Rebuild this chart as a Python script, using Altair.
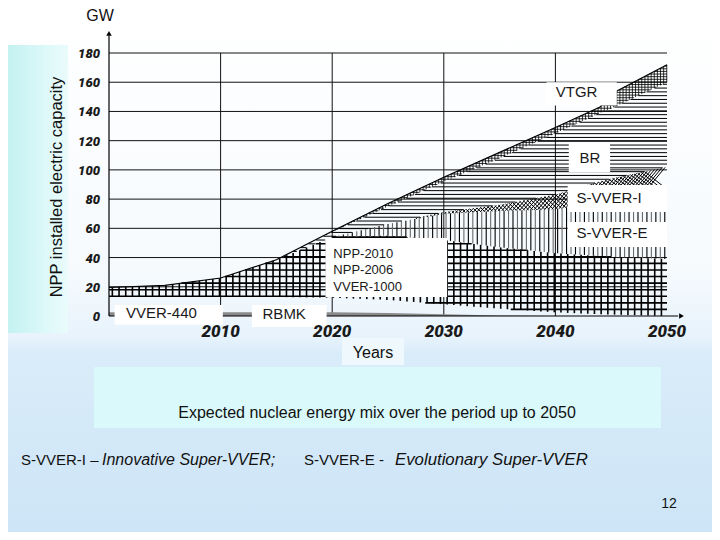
import altair as alt
import numpy as np
import pandas as pd

# ---------------- data (GW per reactor type) ----------------
years    = [2000, 2005, 2010, 2015, 2020, 2025, 2030, 2035, 2040, 2044, 2045, 2050]
vver440  = [2.5, 2.5, 2.5, 2.5, 2.5, 2.0, 1.2, 0.4, 0.0, 0.0, 0.0, 0.0]
rbmk     = [10.5, 10.5, 10.5, 10.5, 10.0, 9.0, 6.8, 4.6, 2.5, 1.2, 1.0, 0.0]
vver1000 = [6.5, 8.0, 13.0, 25.5, 41.5, 44.0, 44.0, 42.0, 40.5, 39.8, 39.5, 39.0]
svver_e  = [0, 0, 0, 0, 0, 8, 18, 25, 30, 37, 39.5, 49]
svver_i  = [0, 0, 0, 0, 0, 0, 1, 4, 10, 14, 14, 14]
br       = [0, 0, 0, 0, 3.5, 12, 21, 32, 42, 47, 48, 58]
vtgr     = [0, 0, 0, 0, 0.5, 2, 3, 4, 4, 4, 10, 12]

y_ticks = [0, 20, 40, 60, 80, 100, 120, 140, 160, 180]
x_ticks = [2010, 2020, 2030, 2040, 2050]
x_grid = [2010, 2020, 2030, 2040]

box_x0 = [2039.2, 2041.2, 2041.1, 2041.1, 2019.4, 2000.5, 2012.8]
box_x1 = [2045.5, 2044.9, 2050.0, 2050.0, 2030.3, 2010.2, 2019.5]
box_y0 = [144, 98.6, 71.2, 47.2, 13, -6, -7.5]
box_y1 = [160, 118.4, 89.7, 64.3, 53.4, 7.5, 7.5]

label_text = ["VTGR", "BR", "S-VVER-I", "S-VVER-E", "NPP-2010", "NPP-2006", "VVER-1000", "VVER-440", "RBMK"]
label_x = [2041.9, 2043.1, 2041.9, 2041.9, 2020.1, 2020.1, 2020.1, 2004.7, 2015.7]
label_y = [153.3, 108, 80.8, 56.8, 42.4, 31.5, 19.8, 2.0, 1.4]
label_align = ["center", "center", "left", "left", "left", "left", "left", "center", "center"]
label_size = [15, 15, 15, 15, 13, 13, 13, 15, 15]

# ---------------- geometry ----------------
W, H = 558, 263
X0, Y0 = 109, 53          # page position of plot origin
def px(v): return v - X0
def py(v): return v - Y0

XD = [2000, 2050]
YD = [0, 180]
xs = alt.Scale(domain=XD, nice=False, zero=False)
ys = alt.Scale(domain=YD, nice=False, zero=False)

# ---------------- stacking ----------------
arr = np.array([vver440, rbmk, vver1000, svver_e, svver_i, br, vtgr], dtype=float)
tops = np.cumsum(arr, axis=0)
bots = tops - arr
yrs = np.array(years, dtype=float)

def lo_hi(k, x):
    return np.interp(x, yrs, bots[k]), np.interp(x, yrs, tops[k])

segs = []
def vert(k, step, sw, colors):
    for i, x in enumerate(np.arange(2000 + step / 2, 2050, step)):
        lo, hi = lo_hi(k, x)
        if hi - lo > 0.4:
            segs.append((x, x, lo, hi, sw, colors[i % len(colors)]))

XF = np.linspace(2000, 2050, 5001)
def horiz(k, step, sw, color):
    lo, hi = lo_hi(k, XF)
    for h in np.arange(step, 200, step):
        m = (lo <= h) & (hi >= h)
        if not m.any():
            continue
        d = np.diff(np.concatenate([[0], m.astype(int), [0]]))
        st = np.where(d == 1)[0]
        en = np.where(d == -1)[0] - 1
        for s, e in zip(st, en):
            if XF[e] - XF[s] > 0.1:
                segs.append((XF[s], XF[e], h, h, sw, color))

def cross(k, step, sw, color):
    kx = (H / 180) / (W / 50)
    for x in np.arange(2000, 2050, step):
        lo, hi = lo_hi(k, x)
        t = hi - lo
        if t < 0.5:
            continue
        dx = t * kx
        if x + dx > 2050:
            continue
        lo2, hi2 = lo_hi(k, x + dx)
        segs.append((x, x + dx, lo, hi2, sw, color))
        segs.append((x, x + dx, hi, lo2, sw, color))

# VVER-1000 / NPP-2006 / NPP-2010 : bold grid
vert(2, 0.6, 1.6, ["#000000"])
horiz(2, 4.5, 1.6, "#000000")
# S-VVER-E : vertical lines
vert(3, 0.4, 1.1, ["#000000", "#6a6a6a"])
# S-VVER-I : cross hatch
cross(4, 0.32, 1.0, "#000000")
# BR : horizontal lines
horiz(5, 2.6, 1.0, "#000000")
# VTGR : fine grid
vert(6, 0.28, 0.8, ["#000000"])
horiz(6, 1.8, 0.8, "#000000")

hatch = pd.DataFrame(segs, columns=["x", "x2", "y", "y2", "sw", "col"])

# ---------------- backgrounds (slide decoration) ----------------
one = pd.DataFrame({"a": [0]})
bg = alt.Chart(one).mark_rect(
    color=alt.Gradient(
        gradient="linear", x1=0, x2=0, y1=0, y2=1,
        stops=[alt.GradientStop(color="#ffffff", offset=0),
               alt.GradientStop(color="#f6fafd", offset=0.5),
               alt.GradientStop(color="#e8f3fc", offset=0.625),
               alt.GradientStop(color="#d9ecf9", offset=0.66),
               alt.GradientStop(color="#cde5f7", offset=1)])
).encode(x=alt.value(px(8)), x2=alt.value(px(712)), y=alt.value(py(8)), y2=alt.value(py(532)))

left_strip = alt.Chart(one).mark_rect(
    color=alt.Gradient(
        gradient="linear", x1=0, x2=1, y1=0, y2=0,
        stops=[alt.GradientStop(color="#c4f1f1", offset=0),
               alt.GradientStop(color="#dcf8f9", offset=0.6),
               alt.GradientStop(color="#eafbfb", offset=1)])
).encode(x=alt.value(px(8)), x2=alt.value(px(68)), y=alt.value(py(45)), y2=alt.value(py(333)))

def prect(x0, x1, y0, y1, c):
    return alt.Chart(one).mark_rect(color=c).encode(
        x=alt.value(px(x0)), x2=alt.value(px(x1)), y=alt.value(py(y0)), y2=alt.value(py(y1)))

years_box = prect(342, 404, 338, 365, "#eef8fd")
caption_box = prect(94, 661, 367, 428, "#d9f9fb")

# ---------------- grid ----------------
hgrid = pd.DataFrame({"v": y_ticks[1:]})
grid_h = alt.Chart(hgrid).mark_rule(color="#111111", strokeWidth=1).encode(
    y=alt.Y("v:Q", scale=ys, axis=None),
    x=alt.datum(2000, scale=xs, axis=None), x2=alt.datum(2050))

vgrid = pd.DataFrame({"v": x_grid})
grid_v = alt.Chart(vgrid).mark_rule(color="#111111", strokeWidth=1).encode(
    x=alt.X("v:Q", scale=xs, axis=None),
    y=alt.datum(0, scale=ys, axis=None), y2=alt.datum(180))

# tick labels (drawn through the scales)
tick_style = dict(font="Roboto", fontStyle="italic", fontWeight=900, color="#1a1a1a")
x_lab = alt.Chart(pd.DataFrame({"v": x_ticks})).mark_text(
    align="center", baseline="middle", fontSize=17, dy=16, **tick_style
).encode(x=alt.X("v:Q", scale=xs, axis=None), y=alt.datum(0, scale=ys, axis=None),
         text=alt.Text("v:Q", format="d"))
y_lab = alt.Chart(pd.DataFrame({"v": y_ticks})).mark_text(
    align="right", baseline="middle", fontSize=13, dx=-9, dy=1, **tick_style
).encode(y=alt.Y("v:Q", scale=ys, axis=None), x=alt.datum(2000, scale=xs, axis=None),
         text=alt.Text("v:Q", format="d"))

# ---------------- data layers ----------------
df_g = pd.DataFrame({"year": years, "lo": bots[0], "hi": tops[0]})
gray_area = alt.Chart(df_g).mark_area(color="#8a8a8a").encode(
    x=alt.X("year:Q", scale=xs, axis=None),
    y=alt.Y("lo:Q", scale=ys, axis=None), y2="hi:Q")

hatch_rules = alt.Chart(hatch).mark_rule().encode(
    x=alt.X("x:Q", scale=xs, axis=None), x2="x2:Q",
    y=alt.Y("y:Q", scale=ys, axis=None), y2="y2:Q",
    strokeWidth=alt.StrokeWidth("sw:Q", scale=None),
    color=alt.Color("col:N", scale=None))

df_t = pd.DataFrame({"year": years, "total": tops[-1]})
total_line = alt.Chart(df_t).mark_line(color="#000000", strokeWidth=1.2).encode(
    x=alt.X("year:Q", scale=xs, axis=None),
    y=alt.Y("total:Q", scale=ys, axis=None))

# axis lines with arrows
y_axis_line = alt.Chart(one).mark_rule(color="#000000", strokeWidth=1.2).encode(
    x=alt.datum(2000, scale=xs, axis=None), y=alt.datum(0, scale=ys, axis=None), y2=alt.datum(192))
x_axis_line = alt.Chart(one).mark_rule(color="#000000", strokeWidth=1.2).encode(
    x=alt.datum(2000, scale=xs, axis=None), x2=alt.datum(2051), y=alt.datum(0, scale=ys, axis=None))
arrow_up = alt.Chart(one).mark_point(shape="triangle-up", filled=True, color="#000000",
                                     size=30, opacity=1).encode(
    x=alt.datum(2000, scale=xs, axis=None), y=alt.datum(193.5, scale=ys, axis=None))
arrow_right = alt.Chart(one).mark_point(shape="triangle-right", filled=True, color="#000000",
                                        size=30, opacity=1).encode(
    x=alt.datum(2051.3, scale=xs, axis=None), y=alt.datum(0, scale=ys, axis=None))

# label boxes & labels
df_box = pd.DataFrame({"x0": box_x0, "x1": box_x1, "y0": box_y0, "y1": box_y1})
boxes = alt.Chart(df_box).mark_rect(color="#ffffff").encode(
    x=alt.X("x0:Q", scale=xs, axis=None), x2="x1:Q",
    y=alt.Y("y0:Q", scale=ys, axis=None), y2="y1:Q")

df_lab = pd.DataFrame({"t": label_text, "x": label_x, "y": label_y,
                       "a": label_align, "s": label_size})
lab_layers = []
for al in ["left", "center"]:
    for sz in sorted(set(label_size)):
        sub = df_lab[(df_lab.a == al) & (df_lab.s == sz)]
        if len(sub) == 0:
            continue
        lab_layers.append(alt.Chart(sub).mark_text(
            align=al, baseline="middle", font="Liberation Sans", fontSize=sz, color="#1a1a1a"
        ).encode(x=alt.X("x:Q", scale=xs, axis=None), y=alt.Y("y:Q", scale=ys, axis=None), text="t:N"))

# ---------------- slide texts ----------------
def ptext(t, x, y, size=16, align="center", style="normal", angle=0, color="#111111"):
    kw = dict(align=align, baseline="middle", font="Liberation Sans", fontSize=size,
              fontStyle=style, color=color)
    if angle:
        kw["angle"] = angle
    return alt.Chart(pd.DataFrame({"t": [t]})).mark_text(**kw).encode(
        x=alt.value(px(x)), y=alt.value(py(y)), text="t:N")

texts = [
    ptext("GW", 100, 16, 16),
    ptext("NPP installed electric capacity", 57, 187, 16.5, angle=270),
    ptext("Years", 373, 353, 16),
    ptext("Expected nuclear energy mix over the period up to 2050", 377, 413, 16),
    ptext("S-VVER-I –", 21, 460, 15, align="left"),
    ptext("Innovative Super-VVER;", 102, 460, 16, align="left", style="italic"),
    ptext("S-VVER-E  -", 304, 460, 15, align="left"),
    ptext("Evolutionary Super-VVER", 395, 460, 16.8, align="left", style="italic"),
    ptext("12", 669, 504, 14),
]

chart = alt.layer(
    bg, left_strip, years_box, caption_box,
    grid_h, grid_v,
    gray_area, hatch_rules, total_line,
    y_axis_line, x_axis_line, arrow_up, arrow_right,
    boxes, *lab_layers,
    x_lab, y_lab,
    *texts
).properties(
    width=W, height=H,
    autosize=alt.AutoSizeParams(type="none"),
    padding={"left": 101, "top": 45, "right": 45, "bottom": 216},
    background="#ffffff",
).configure_view(stroke=None)

chart.save("out.html", embed_options={"renderer": "svg", "actions": False})
